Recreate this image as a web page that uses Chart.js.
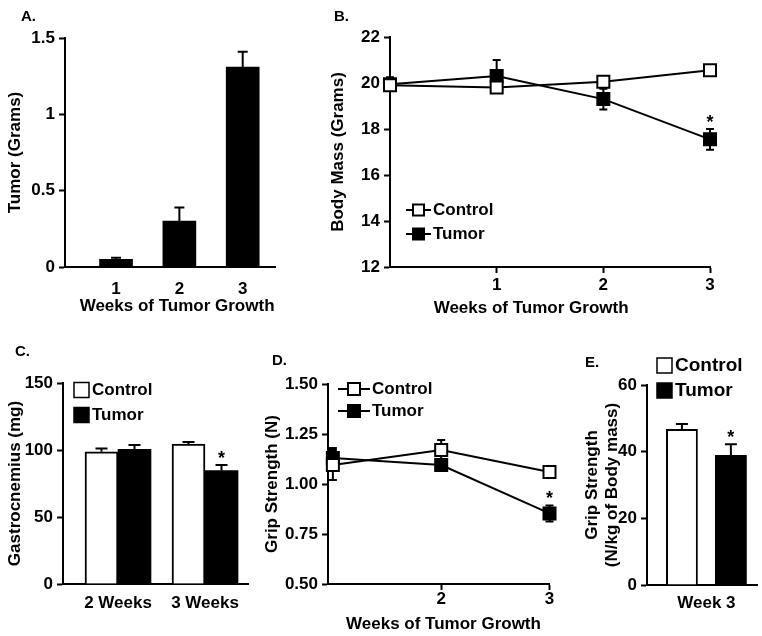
<!DOCTYPE html>
<html>
<head>
<meta charset="utf-8">
<script src="https://cdn.jsdelivr.net/npm/chart.js@4.4.1/dist/chart.umd.min.js"></script>
<style>
  html, body { margin: 0; padding: 0; background: #fff; }
  #fig { position: relative; width: 762px; height: 636px; overflow: hidden; }
  .panel { position: absolute; }
  .tag { position: absolute; font: bold 15px "Liberation Sans", Arial, sans-serif; color: #000; }
</style>
</head>
<body>
<div id="fig">
  <div class="panel" style="left:0;top:0;width:290px;height:325px"><canvas id="cA"></canvas></div>
  <div class="panel" style="left:320px;top:0;width:442px;height:325px"><canvas id="cB"></canvas></div>
  <div class="panel" style="left:0;top:330px;width:260px;height:306px"><canvas id="cC"></canvas></div>
  <div class="panel" style="left:260px;top:330px;width:300px;height:306px"><canvas id="cD"></canvas></div>
  <div class="panel" style="left:560px;top:330px;width:202px;height:306px"><canvas id="cE"></canvas></div>
  <div class="tag" style="left:21px;top:7px">A.</div>
  <div class="tag" style="left:334px;top:7px">B.</div>
  <div class="tag" style="left:15px;top:342px">C.</div>
  <div class="tag" style="left:272px;top:351px">D.</div>
  <div class="tag" style="left:585px;top:353px">E.</div>
</div>
<script>
// A. tumor mass
const aWeeks = [1, 2, 3];
const aTumor = [0.05, 0.30, 1.31];
const aTumorErr = [0.01, 0.09, 0.10];

// B. body mass
const bWeeks = [0, 1, 2, 3];
const bControl = [19.9, 19.8, 20.05, 20.55];
const bControlErr = [0.25, 0.2, 0.15, 0.15];
const bTumor = [19.95, 20.3, 19.3, 17.55];
const bTumorErr = [0.3, 0.7, 0.45, 0.45];
const bTumorSig = [false, false, false, true];

// C. gastrocnemius
const cGroups = ["2 Weeks", "3 Weeks"];
const cWeeks = [2, 3];
const cControl = [98.7, 104.5];
const cControlErr = [2.5, 1.5];
const cTumor = [100.5, 84.6];
const cTumorErr = [3.2, 4.2];
const cTumorSig = [false, true];

// D. grip strength
const dWeeks = [1, 2, 3];
const dControl = [1.095, 1.17, 1.06];
const dControlErr = [0.075, 0.05, 0.015];
const dTumor = [1.13, 1.095, 0.853];
const dTumorErr = [0.05, 0.03, 0.04];
const dTumorSig = [false, false, true];

// E. normalised grip strength
const eGroups = ["Week 3"];
const eWeeks = [3];
const eControl = [46.8];
const eControlErr = [1.5];
const eTumor = [39.0];
const eTumorErr = [3.2];
const eTumorSig = [true];

const FONT = '"Liberation Sans", Arial, sans-serif';
Chart.defaults.font.family = FONT;
Chart.defaults.font.size = 17;
Chart.defaults.font.weight = "bold";
Chart.defaults.color = "#000";
Chart.defaults.animation = false;
Chart.defaults.plugins.legend.display = false;
Chart.defaults.plugins.tooltip.enabled = false;

const pts = (xs, ys) => xs.map((x, i) => ({ x, y: ys[i] }));
// non-breaking spaces nudge a centred axis title off the axis centre, as in the original
const nudge = (text, left, right) => "\u00a0".repeat(left) + text + "\u00a0".repeat(right);

// error bars drawn under the marks; bars cover the lower half
const errorBars = {
  id: "errorBars",
  beforeDatasetsDraw(chart) {
    const ctx = chart.ctx;
    const yS = chart.scales.y;
    const isBar = chart.config.type === "bar";
    chart.data.datasets.forEach((ds, i) => {
      if (!ds.errors) return;
      const meta = chart.getDatasetMeta(i);
      const cap = ds.capWidth || 8;
      ctx.save();
      ctx.strokeStyle = "#000";
      ctx.lineWidth = 2;
      meta.data.forEach((el, j) => {
        const v = ds.data[j].y, e = ds.errors[j];
        const top = yS.getPixelForValue(v + e);
        const bot = isBar ? yS.getPixelForValue(v) : yS.getPixelForValue(v - e);
        ctx.beginPath();
        ctx.moveTo(el.x, top);
        ctx.lineTo(el.x, bot);
        ctx.moveTo(el.x - cap / 2, top);
        ctx.lineTo(el.x + cap / 2, top);
        if (!isBar) {
          ctx.moveTo(el.x - cap / 2, bot);
          ctx.lineTo(el.x + cap / 2, bot);
        }
        ctx.stroke();
      });
      ctx.restore();
    });
  },
  afterDatasetsDraw(chart) {
    const ctx = chart.ctx;
    const yS = chart.scales.y;
    chart.data.datasets.forEach((ds, i) => {
      if (!ds.stars) return;
      const meta = chart.getDatasetMeta(i);
      ctx.save();
      ctx.font = "bold 18px " + FONT;
      ctx.textAlign = "center";
      ctx.textBaseline = "alphabetic";
      ctx.fillStyle = "#000";
      meta.data.forEach((el, j) => {
        if (!ds.stars[j]) return;
        const top = yS.getPixelForValue(ds.data[j].y + ds.errors[j]);
        ctx.fillText("*", el.x, top - 1);
      });
      ctx.restore();
    });
  },
};

// small key drawn from the datasets' own styles
const keyLegend = {
  id: "keyLegend",
  afterDraw(chart, args, o) {
    if (o.x === undefined) return;
    const ctx = chart.ctx;
    ctx.save();
    ctx.font = `bold ${o.size}px ${FONT}`;
    ctx.textBaseline = "middle";
    ctx.strokeStyle = "#000";
    chart.data.datasets.forEach((ds, i) => {
      const y = o.y + i * o.gap;
      let tx;
      if (o.kind === "line") {
        ctx.lineWidth = 2;
        ctx.beginPath();
        ctx.moveTo(o.x, y);
        ctx.lineTo(o.x + o.len, y);
        ctx.stroke();
        const cx = o.x + o.len / 2;
        ctx.fillStyle = ds.pointBackgroundColor;
        ctx.fillRect(cx - o.box / 2, y - o.box / 2, o.box, o.box);
        ctx.strokeRect(cx - o.box / 2, y - o.box / 2, o.box, o.box);
        tx = o.x + o.len + 2;
      } else {
        ctx.lineWidth = 1.5;
        ctx.fillStyle = ds.backgroundColor;
        ctx.fillRect(o.x, y - o.box / 2, o.box, o.box);
        ctx.strokeRect(o.x, y - o.box / 2, o.box, o.box);
        tx = o.x + o.box + 3;
      }
      ctx.fillStyle = "#000";
      ctx.fillText(ds.label, tx, y);
    });
    ctx.restore();
  },
};

function yAxis(min, max, step, title, titlePad, fmt) {
  return {
    type: "linear",
    min, max,
    afterBuildTicks: (s) => {
      s.ticks = [];
      for (let v = min; v <= max + 1e-9; v += step) s.ticks.push({ value: +v.toFixed(4) });
    },
    ticks: { padding: 4, callback: fmt },
    grid: { drawOnChartArea: false, tickLength: 6, color: "#000", tickWidth: 2 },
    border: { display: true, color: "#000", width: 2 },
    title: { display: true, text: title, font: { size: 17 }, padding: { top: titlePad, bottom: 0 } },
  };
}

function xAxis(min, max, ticksAt, labelFor, opts) {
  return {
    type: "linear",
    min, max,
    offset: false,
    afterBuildTicks: (s) => { s.ticks = ticksAt.map((v) => ({ value: v })); },
    ticks: { padding: opts.pad, callback: labelFor, maxRotation: 0, autoSkip: false },
    grid: { display: opts.marks, offset: false, drawOnChartArea: false, tickLength: 6, color: "#000", tickWidth: 2 },
    border: { display: true, color: "#000", width: 2 },
    title: opts.title
      ? { display: true, text: opts.title, font: { size: 17 }, padding: { top: 0, bottom: opts.titlePad } }
      : { display: false },
  };
}

function fix(chartOpts, yW, xH) {
  chartOpts.scales.y.afterFit = (s) => { s.width = yW; };
  chartOpts.scales.x.afterFit = (s) => { s.height = xH; };
  return chartOpts;
}

const base = { responsive: true, maintainAspectRatio: false };

// ---- A ----
new Chart(document.getElementById("cA"), {
  type: "bar",
  data: {
    datasets: [{
      label: "Tumor",
      data: pts(aWeeks, aTumor),
      errors: aTumorErr,
      capWidth: 10,
      backgroundColor: "#000",
      borderWidth: 0,
      barThickness: 33,
    }],
  },
  options: fix({
    ...base,
    layout: { padding: { top: 38, right: 15, left: 0, bottom: 0 } },
    scales: {
      x: xAxis(0.194, 3.51, aWeeks, (v) => String(v),
        { pad: 6, marks: false, title: nudge("Weeks of Tumor Growth", 3, 0), titlePad: 8 }),
      y: yAxis(0, 1.5, 0.5, "Tumor (Grams)", 5, (v) => String(v)),
    },
  }, 65, 58),
  plugins: [errorBars],
});

// ---- B ----
const lineDs = (label, xs, ys, err, fill) => ({
  label,
  data: pts(xs, ys),
  errors: err,
  capWidth: 8,
  borderColor: "#000",
  borderWidth: 2,
  pointStyle: "rect",
  pointRadius: 8.5,
  pointBorderWidth: 2,
  pointBorderColor: "#000",
  pointBackgroundColor: fill,
  backgroundColor: fill,
  tension: 0,
  clip: false,
});

const bCtl = lineDs("Control", bWeeks, bControl, bControlErr, "#fff");
const bTum = lineDs("Tumor", bWeeks, bTumor, bTumorErr, "#000");
bTum.stars = bTumorSig;
new Chart(document.getElementById("cB"), {
  type: "line",
  data: { datasets: [bCtl, bTum] },
  options: fix({
    ...base,
    layout: { padding: { top: 37, right: 52, left: 0, bottom: 0 } },
    scales: {
      x: xAxis(0, 3, [1, 2, 3], (v) => String(v),
        { pad: 2, marks: true, title: nudge("Weeks of Tumor Growth", 0, 8), titlePad: 6 }),
      y: yAxis(12, 22, 2, "Body Mass (Grams)", 8, (v) => String(v)),
    },
    plugins: { keyLegend: { kind: "line", x: 86, y: 210, gap: 24, len: 25, box: 11, size: 17 } },
  }, 70, 58),
  plugins: [errorBars, keyLegend],
});

// ---- C ----
new Chart(document.getElementById("cC"), {
  type: "bar",
  data: {
    datasets: [
      { label: "Control", data: pts(cWeeks, cControl), errors: cControlErr, capWidth: 12,
        backgroundColor: "#fff", borderColor: "#000", borderWidth: 2, barThickness: 33 },
      { label: "Tumor", data: pts(cWeeks, cTumor), errors: cTumorErr, stars: cTumorSig, capWidth: 12,
        backgroundColor: "#000", borderColor: "#000", borderWidth: 0, barThickness: 33 },
    ],
  },
  options: fix({
    ...base,
    layout: { padding: { top: 53, right: 12, left: 0, bottom: 0 } },
    scales: {
      x: xAxis(1.368, 3.494, cWeeks, (v) => cGroups[cWeeks.indexOf(v)], { pad: 3, marks: false }),
      y: yAxis(0, 150, 50, "Gastrocnemius (mg)", 5, (v) => String(v)),
    },
    plugins: { keyLegend: { kind: "box", x: 74, y: 60, gap: 25, box: 15, size: 17 } },
  }, 63, 52),
  plugins: [errorBars, keyLegend],
});

// ---- D ----
const dCtl = lineDs("Control", dWeeks, dControl, dControlErr, "#fff");
const dTum = lineDs("Tumor", dWeeks, dTumor, dTumorErr, "#000");
dTum.stars = dTumorSig;
new Chart(document.getElementById("cD"), {
  type: "line",
  data: { datasets: [dCtl, dTum] },
  options: fix({
    ...base,
    layout: { padding: { top: 54, right: 7, left: 0, bottom: 0 } },
    scales: {
      x: xAxis(0.955, 3, [2, 3], (v) => String(v),
        { pad: -1, marks: true, title: nudge("Weeks of Tumor Growth", 2, 0), titlePad: 1 }),
      y: yAxis(0.5, 1.5, 0.25, "Grip Strength (N)", 2, (v) => v.toFixed(2)),
    },
    plugins: { keyLegend: { kind: "line", x: 78, y: 59, gap: 22, len: 32, box: 12, size: 17 } },
  }, 68, 52),
  plugins: [errorBars, keyLegend],
});

// ---- E ----
new Chart(document.getElementById("cE"), {
  type: "bar",
  data: {
    datasets: [
      { label: "Control", data: pts(eWeeks, eControl), errors: eControlErr, capWidth: 12,
        backgroundColor: "#fff", borderColor: "#000", borderWidth: 2,
        categoryPercentage: 0.89, barPercentage: 0.65 },
      { label: "Tumor", data: pts(eWeeks, eTumor), errors: eTumorErr, stars: eTumorSig, capWidth: 12,
        backgroundColor: "#000", borderColor: "#000", borderWidth: 0,
        categoryPercentage: 0.89, barPercentage: 0.65 },
    ],
  },
  options: fix({
    ...base,
    layout: { padding: { top: 55, right: 5, left: 0, bottom: 0 } },
    scales: {
      x: xAxis(2.46, 3.46, eWeeks, (v) => eGroups[eWeeks.indexOf(v)], { pad: 2, marks: false }),
      y: yAxis(0, 60, 20, ["Grip Strength", "(N/kg of Body mass)"], 22, (v) => String(v)),
    },
    plugins: { keyLegend: { kind: "box", x: 97, y: 35.5, gap: 25, box: 15, size: 19 } },
  }, 87, 51),
  plugins: [errorBars, keyLegend],
});
</script>
</body>
</html>
